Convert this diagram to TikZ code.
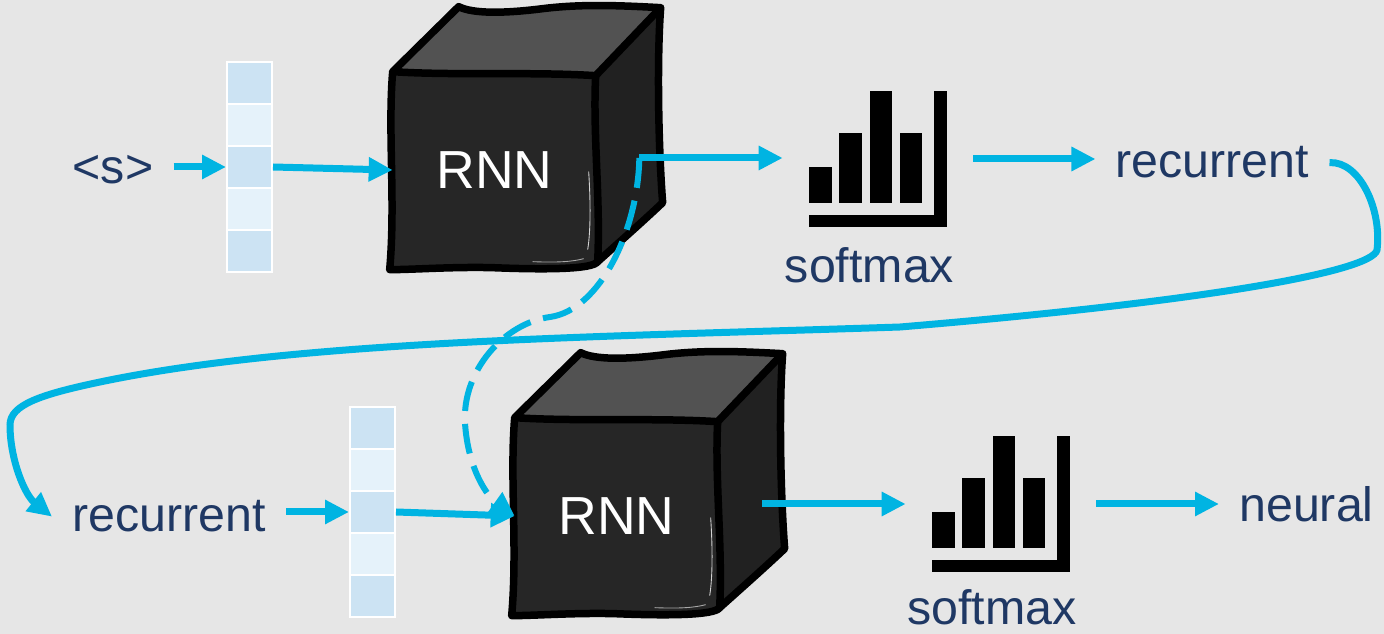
\documentclass[tikz,border=0pt]{standalone}
\usepackage{fontspec}
\setmainfont{Liberation Sans}
\usetikzlibrary{arrows.meta,calc}

\definecolor{bg}{RGB}{230,230,230}
\definecolor{flowc}{RGB}{0,180,226}
\definecolor{ink}{RGB}{31,56,100}
\definecolor{celldark}{RGB}{204,227,243}
\definecolor{celllight}{RGB}{229,242,250}
\definecolor{cubefront}{RGB}{38,38,38}
\definecolor{cubetop}{RGB}{82,82,82}
\definecolor{cubeside}{RGB}{33,33,33}

\pgfdeclarelayer{canvas}
\pgfdeclarelayer{back}
\pgfsetlayers{canvas,back,main}

\tikzset{
  lbl/.style={text=ink, font=\fontsize{27.5}{33}\selectfont, inner xsep=0.4cm, inner ysep=0pt, anchor=base},
  rnnbox/.style={text=white, font=\fontsize{30.5}{36}\selectfont, minimum width=4.06cm, minimum height=3.92cm, inner sep=0pt},
  vcell/.style={draw=white, line width=0.04cm, minimum width=0.9cm, minimum height=0.84cm, inner sep=0pt},
  smbox/.style={minimum width=3.8cm, minimum height=2.72cm, inner sep=0pt},
  flow/.style={draw=flowc, line width=0.14cm, -{Triangle[length=0.48cm,width=0.46cm]}},
  dashflow/.style={flow, line width=0.12cm, dash pattern=on 0.6cm off 0.26cm},
  cubeline/.style={draw=black, line width=0.15cm, line join=round, line cap=round},
  % hand-drawn cube; origin at the top-left corner of the front face
  cube/.pic={
    \fill[cubetop] (0,0) -- (66,-65) .. controls (80,-58) and (110,-58) .. (150,-63)
      .. controls (190,-68) and (230,-66) .. (268,-64) -- (203,4)
      .. controls (140,0) and (60,4) .. (0,0) -- cycle;
    \fill[cubeside] (203,4) -- (268,-64) .. controls (264,-10) and (266,80) .. (270,131)
      .. controls (250,150) and (225,172) .. (205,190)
      .. controls (208,130) and (200,60) .. (203,4) -- cycle;
    \fill[cubefront] (0,0) .. controls (60,4) and (140,0) .. (203,4)
      .. controls (200,60) and (208,130) .. (205,190)
      .. controls (200,198) and (150,198) .. (100,196)
      .. controls (60,195) and (20,198) .. (-3,198)
      .. controls (3,130) and (-5,60) .. (0,0) -- cycle;
    \draw[white, line width=0.5pt, opacity=0.8] (196,100) .. controls (198,130) and (198,160) .. (195,178);
    \draw[white, line width=0.5pt, opacity=0.6] (140,190) .. controls (165,191) and (180,190) .. (191,187);
    \draw[cubeline] (0,0) -- (66,-65) .. controls (80,-58) and (110,-58) .. (150,-63)
      .. controls (190,-68) and (230,-66) .. (268,-64)
      .. controls (264,-10) and (266,80) .. (270,131)
      .. controls (250,150) and (225,172) .. (205,190)
      .. controls (200,198) and (150,198) .. (100,196)
      .. controls (60,195) and (20,198) .. (-3,198)
      .. controls (3,130) and (-5,60) .. (0,0)
      .. controls (60,4) and (140,0) .. (203,4) -- (268,-64);
    \draw[cubeline] (203,4) .. controls (200,60) and (208,130) .. (205,190);
  },
  % bar-chart glyph; origin at its centre
  smicon/.pic={
    \fill[black] (-69,8) rectangle (-46,44);
    \fill[black] (-39,-26) rectangle (-16,44);
    \fill[black] (-8,-68) rectangle (14,44);
    \fill[black] (22,-26) rectangle (44,44);
    \fill[black] (-69,56) rectangle (69,68);
    \fill[black] (56,-68) rectangle (69,68);
  }
}

\begin{document}
\begin{tikzpicture}[x=0.02cm, y=-0.02cm]
\useasboundingbox (0,0) rectangle (1384,634);
\begin{pgfonlayer}{canvas}
  \fill[bg] (0,0) rectangle (1384,634);
\end{pgfonlayer}

% RNN blocks
\node[rnnbox] (rnn1) at (494.5,170) {RNN};
\node[rnnbox] (rnn2) at (616.5,516) {RNN};
\begin{pgfonlayer}{back}
  \pic at (rnn1.north west) {cube};
  \pic at (rnn2.north west) {cube};
\end{pgfonlayer}

% embedding vectors
\foreach \i/\c in {1/celldark,2/celllight,3/celldark,4/celllight,5/celldark} {
  \node[vcell, fill=\c] (v1c\i) at (249.5,41+42*\i) {};
  \node[vcell, fill=\c] (v2c\i) at (372.5,386+42*\i) {};
}

% softmax glyphs
\node[smbox] (sm1) at (878,159) {};
\node[smbox] (sm2) at (1001,504) {};
\pic at (sm1.center) {smicon};
\pic at (sm2.center) {smicon};

% words
\node[lbl] (s) at (113,184) {\textless s\textgreater};
\node[lbl] (rec1) at (1212.5,178) {recurrent};
\node[lbl] (rec2) at (169,532) {recurrent};
\node[lbl] (neural) at (1306.5,522) {neural};
\node[lbl] (smlab1) at (869.5,283) {softmax};
\node[lbl] (smlab2) at (992,625) {softmax};

% outputs leave the side face of each block
\coordinate (o1) at ($(rnn1.east)+(43,-12)$);
\coordinate (o2) at ($(rnn2.east)+(44,-12)$);

% first step
\draw[flow] (v1c3.west -| s.east) -- (v1c3.west);
\draw[flow] (v1c3.east) -- (rnn1.west);
\draw[flow] (o1) -- (o1 -| sm1.west);
\draw[flow] (sm1.east) -- (sm1.east -| rec1.west);

% predicted word fed back as the next input
\draw[flow] (rec1.east) .. controls (1360,161) and (1382,210) .. (1377,250)
  .. controls (1372,272) and (1200,302) .. (900,327)
  .. controls (600,337) and (300,340) .. (100,382)
  .. controls (40,394.6) and (10,405) .. (10,425)
  .. controls (10,460) and (25,495) .. (rec2.west);

% hidden state carried to the next step
\draw[dashflow] (o1) .. controls (638,230) and (600,310) .. (550,317)
  .. controls (505,323) and (462,370) .. (465,423)
  .. controls (468,470) and (488,497) .. (rnn2.west);

% second step
\draw[flow] (v2c3.west -| rec2.east) -- (v2c3.west);
\draw[flow] (v2c3.east) -- (rnn2.west);
\draw[flow] (o2) -- (o2 -| sm2.west);
\draw[flow] (sm2.east) -- (sm2.east -| neural.west);
\end{tikzpicture}
\end{document}
